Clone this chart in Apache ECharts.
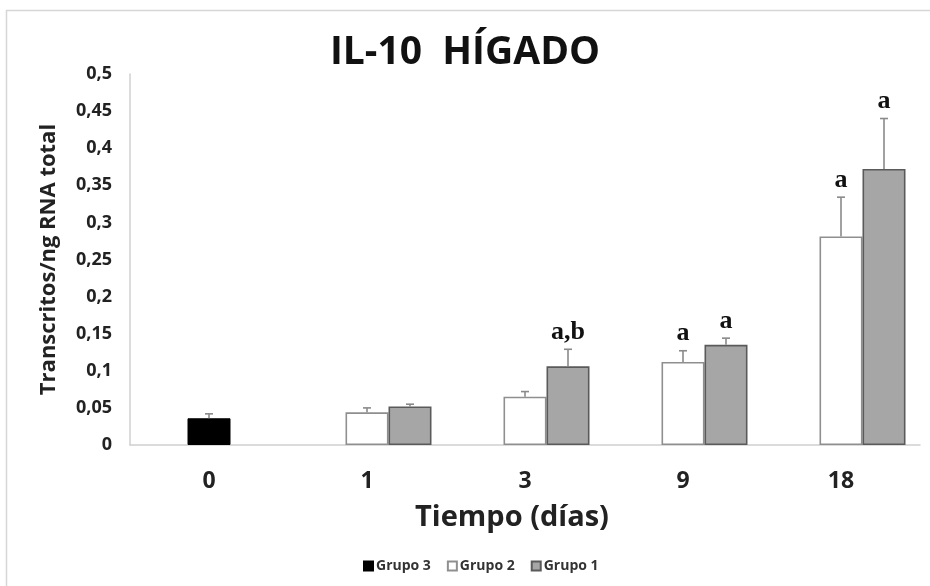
<!DOCTYPE html>
<html>
<head>
<meta charset="utf-8">
<script src="https://cdn.jsdelivr.net/npm/echarts@6/dist/echarts.min.js"></script>
<style>
  html, body { margin: 0; padding: 0; background: #ffffff; }
  #chart { width: 930px; height: 586px; }
</style>
</head>
<body>
<div id="chart"></div>
<script>
// Days of sampling (x categories)
const days = ['0', '1', '3', '9', '18'];

// Mean transcripts / ng total RNA per group
const grupo3 = [0.036, null, null, null, null];
const grupo2 = [null, 0.044, 0.065, 0.112, 0.281];
const grupo1 = [null, 0.052, 0.106, 0.135, 0.372];

// Upper error (SD) per group
const grupo3Err = [0.006, null, null, null, null];
const grupo2Err = [null, 0.006, 0.007, 0.015, 0.053];
const grupo1Err = [null, 0.003, 0.023, 0.009, 0.068];

// Significance letters above bars
const grupo2Sig = ['', '', '', 'a', 'a'];
const grupo1Sig = ['', '', 'a,b', 'a', 'a'];

// Y axis ticks
const yTicks = { min: 0, max: 0.5, step: 0.05 };

const BAR_W = 43;
const FONT = '"Open Sans", "Noto Sans", sans-serif';

const chart = echarts.init(document.getElementById('chart'), null, { renderer: 'canvas' });

// Error bar (upper whisker) plus optional letter, drawn in a given bar slot
function errorSeries(name, means, errs, sigs, slotOffset) {
  const data = [];
  means.forEach((m, i) => {
    if (m != null && errs[i] != null) data.push([i, m, errs[i], sigs ? sigs[i] : '']);
  });
  return {
    type: 'custom',
    name: name + ' error',
    z: 5,
    silent: true,
    renderItem: function (params, api) {
      const idx = api.value(0);
      const mean = api.value(1);
      const err = api.value(2);
      const sig = data[params.dataIndex][3];
      const base = api.coord([idx, mean]);
      const top = api.coord([idx, mean + err]);
      const x = base[0] + slotOffset;
      const cap = 4;
      const children = [
        { type: 'line', shape: { x1: x, y1: base[1], x2: x, y2: top[1] },
          style: { stroke: '#8a8a8a', lineWidth: 1.6 } },
        { type: 'line', shape: { x1: x - cap, y1: top[1], x2: x + cap, y2: top[1] },
          style: { stroke: '#8a8a8a', lineWidth: 1.6 } }
      ];
      if (sig) {
        children.push({
          type: 'text',
          style: {
            x: x, y: top[1] - 4, text: sig,
            align: 'center', verticalAlign: 'bottom',
            font: 'bold 26px "Liberation Serif", "DejaVu Serif", serif',
            fill: '#111111'
          }
        });
      }
      return { type: 'group', children: children };
    },
    data: data
  };
}

const option = {
  backgroundColor: '#ffffff',
  animation: false,
  title: {
    text: 'IL-10  HÍGADO',
    left: 'center',
    top: 28,
    textStyle: { fontFamily: FONT, fontWeight: 'bold', fontSize: 39, color: '#111111' }
  },
  legend: {
    data: ['Grupo 3', 'Grupo 2', 'Grupo 1'],
    bottom: 8,
    left: 358,
    icon: 'rect',
    itemWidth: 9,
    itemHeight: 9,
    itemGap: 16,
    textStyle: { fontFamily: FONT, fontWeight: 'bold', fontSize: 14, color: '#333333', padding: [0, 0, 0, -2] }
  },
  grid: { left: 130, right: 10, top: 74, bottom: 141 },
  xAxis: {
    type: 'category',
    data: days,
    name: 'Tiempo (días)',
    nameLocation: 'middle',
    nameGap: 58,
    nameTextStyle: { fontFamily: FONT, fontWeight: 'bold', fontSize: 29, color: '#222222', padding: [0, 26, 0, 0] },
    axisLine: { lineStyle: { color: '#d0d0d0', width: 1.5 } },
    axisTick: { show: false },
    axisLabel: { margin: 25, fontFamily: FONT, fontWeight: 'bold', fontSize: 23, color: '#222222' }
  },
  yAxis: {
    type: 'value',
    min: yTicks.min,
    max: yTicks.max,
    interval: yTicks.step,
    name: 'Transcritos/ng RNA total',
    nameLocation: 'middle',
    nameGap: 70,
    nameTextStyle: { fontFamily: FONT, fontWeight: 'bold', fontSize: 22, color: '#222222' },
    axisLine: { show: true, lineStyle: { color: '#d0d0d0', width: 1.5 } },
    axisTick: { show: false },
    splitLine: { show: false },
    axisLabel: {
      margin: 18,
      fontFamily: FONT, fontWeight: 'bold', fontSize: 18, color: '#222222',
      formatter: v => String(Number(v.toFixed(2))).replace('.', ',')
    }
  },
  series: [
    // empty leading slot so the white/black bars sit at the category centre
    { type: 'bar', name: '_slot', data: days.map(() => null), barWidth: BAR_W, barGap: '0%' },
    {
      type: 'bar', name: 'Grupo 3', stack: 'centre', data: grupo3, barWidth: BAR_W, barGap: '0%',
      itemStyle: { color: '#000000', borderColor: '#000000', borderWidth: 1 }
    },
    {
      type: 'bar', name: 'Grupo 2', stack: 'centre', data: grupo2, barWidth: BAR_W, barGap: '0%',
      itemStyle: { color: '#ffffff', borderColor: '#8f8f8f', borderWidth: 1.6 }
    },
    {
      type: 'bar', name: 'Grupo 1', data: grupo1, barWidth: BAR_W, barGap: '0%',
      itemStyle: { color: '#a6a6a6', borderColor: '#5a5a5a', borderWidth: 1.6 }
    },
    errorSeries('Grupo 3', grupo3, grupo3Err, null, 0),
    errorSeries('Grupo 2', grupo2, grupo2Err, grupo2Sig, 0),
    errorSeries('Grupo 1', grupo1, grupo1Err, grupo1Sig, BAR_W)
  ],
  graphic: [
    // thin frame around the chart area
    { type: 'line', shape: { x1: 6, y1: 10.5, x2: 930, y2: 10.5 }, style: { stroke: '#d6d6d6', lineWidth: 1.5 }, silent: true },
    { type: 'line', shape: { x1: 6.5, y1: 10, x2: 6.5, y2: 586 }, style: { stroke: '#d6d6d6', lineWidth: 1.5 }, silent: true }
  ]
};

chart.setOption(option);
</script>
</body>
</html>
